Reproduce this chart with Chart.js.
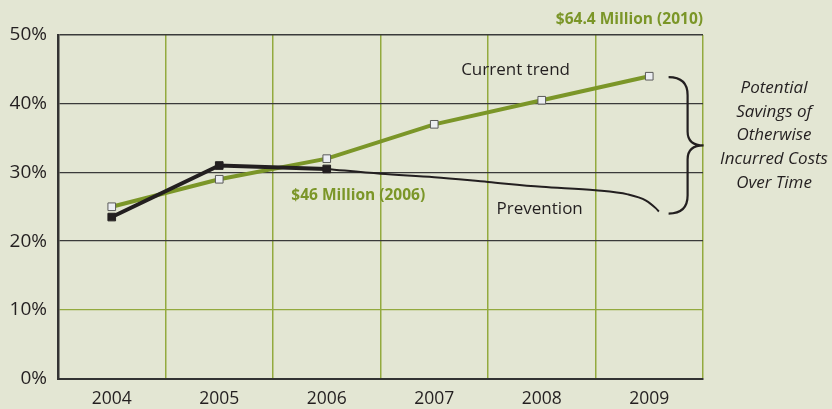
<!DOCTYPE html>
<html>
<head>
<meta charset="utf-8">
<script src="https://cdn.jsdelivr.net/npm/chart.js@4.4.0/dist/chart.umd.min.js"></script>
<style>
  html, body { margin: 0; padding: 0; background: #e3e6d3; }
  #wrap { width: 832px; height: 409px; position: relative; }
</style>
</head>
<body>
<div id="wrap"><canvas id="c" width="832" height="409"></canvas></div>
<script>
const years = ['2004', '2005', '2006', '2007', '2008', '2009'];
const currentTrend = [25, 29, 32, 37, 40.5, 44];
const prevention = [23.5, 31, 30.5, null, null, null];
// Prevention projection curve: x = category index (fractional), y = percent
const preventionCurveX = [2, 2.5, 3, 3.5, 4, 4.5, 4.8, 4.97, 5.06, 5.09];
const preventionCurveY = [30.5, 29.8, 29.3, 28.6, 27.9, 27.4, 26.8, 25.9, 24.8, 24.3];
const yTicks = [0, 10, 20, 30, 40, 50];

const GREEN = '#7b9628';
const GRID_GREEN = '#93aa3e';
const DARK = '#231f20';
const FONT = "'Open Sans', 'DejaVu Sans', sans-serif";

const annotations = {
  id: 'annotations',
  afterDatasetsDraw(chart) {
    const { ctx, scales } = chart;
    const y = scales.y, x = scales.xl;
    ctx.save();
    // brace spanning from current trend end to prevention end
    const yTop = y.getPixelForValue(currentTrend[5]) + 1;
    const yBot = y.getPixelForValue(preventionCurveY[preventionCurveY.length - 1]) + 2;
    const x0 = x.getPixelForValue(5.18);
    const xm = x0 + 19;
    const xt = x0 + 35;
    const ym = (yTop + yBot) / 2;
    ctx.strokeStyle = DARK;
    ctx.lineWidth = 2.2;
    ctx.beginPath();
    ctx.moveTo(x0, yTop);
    ctx.quadraticCurveTo(xm, yTop, xm, yTop + 18);
    ctx.lineTo(xm, ym - 14);
    ctx.quadraticCurveTo(xm, ym, xt, ym);
    ctx.quadraticCurveTo(xm, ym, xm, ym + 14);
    ctx.lineTo(xm, yBot - 18);
    ctx.quadraticCurveTo(xm, yBot, x0, yBot);
    ctx.stroke();

    ctx.fillStyle = GREEN;
    ctx.font = "bold 15.5px " + FONT;
    ctx.textBaseline = 'middle';
    ctx.textAlign = 'right';
    ctx.fillText('$64.4 Million (2010)', chart.chartArea.right, 20);
    ctx.textAlign = 'left';
    ctx.fillText('$46 Million (2006)', x.getPixelForValue(1.67), y.getPixelForValue(26.6));

    ctx.fillStyle = DARK;
    ctx.font = "17px " + FONT;
    ctx.fillText('Current trend', x.getPixelForValue(3.25), y.getPixelForValue(44.9));
    ctx.fillText('Prevention', x.getPixelForValue(3.58), y.getPixelForValue(24.7));

    ctx.font = "italic 17px " + FONT;
    ctx.textAlign = 'center';
    const lines = ['Potential', 'Savings of', 'Otherwise', 'Incurred Costs', 'Over Time'];
    lines.forEach((t, i) => ctx.fillText(t, 774, 88 + i * 23.8));
    ctx.restore();
  }
};

new Chart(document.getElementById('c'), {
  type: 'line',
  data: {
    labels: years,
    datasets: [
      {
        label: 'Prevention projection',
        data: preventionCurveX.map((v, i) => ({ x: v, y: preventionCurveY[i] })),
        xAxisID: 'xl',
        borderColor: DARK,
        borderWidth: 2,
        pointRadius: 0,
        tension: 0.4,
        cubicInterpolationMode: 'monotone',
        order: 3
      },
      {
        label: 'Current trend',
        data: currentTrend,
        borderColor: GREEN,
        borderWidth: 4,
        pointStyle: 'rect',
        pointRadius: 5.4,
        pointBackgroundColor: '#eceef2',
        pointBorderColor: '#5a5a5a',
        pointBorderWidth: 1,
        tension: 0,
        order: 2
      },
      {
        label: 'Prevention',
        data: prevention,
        borderColor: DARK,
        borderWidth: 4,
        pointStyle: 'rect',
        pointRadius: 5.4,
        pointBackgroundColor: DARK,
        pointBorderColor: DARK,
        pointBorderWidth: 1,
        tension: 0,
        order: 1
      }
    ]
  },
  options: {
    responsive: false,
    animation: false,
    devicePixelRatio: 1,
    layout: { padding: { left: 0, right: 129, top: 35, bottom: 0 } },
    plugins: { legend: { display: false }, tooltip: { enabled: false } },
    scales: {
      x: {
        type: 'category',
        offset: true,
        grid: {
          offset: true,
          color: (c) => (c.index === 6 ? DARK : GRID_GREEN),
          lineWidth: 1.5,
          drawTicks: false
        },
        border: { color: '#333', width: 2 },
        ticks: { color: DARK, font: { family: FONT, size: 17.5 }, padding: 10, maxRotation: 0 },
        afterFit: (s) => { s.height = 30.5; }
      },
      xl: {
        type: 'linear',
        display: false,
        min: -0.5,
        max: 5.5
      },
      y: {
        min: 0,
        max: 50,
        afterBuildTicks: (s) => { s.ticks = yTicks.map(v => ({ value: v })); },
        grid: {
          color: (c) => (c.tick && c.tick.value === 10 ? GRID_GREEN : '#3a3a3a'),
          lineWidth: (c) => (c.tick && c.tick.value === 50 ? 1.5 : 1.3),
          drawTicks: false
        },
        border: { color: '#333', width: 2.5 },
        ticks: {
          color: DARK,
          font: { family: FONT, size: 19 },
          padding: 11,
          callback: (v) => v + '%'
        },
        afterFit: (s) => { s.width = 58; }
      }
    }
  },
  plugins: [annotations]
});
</script>
</body>
</html>
